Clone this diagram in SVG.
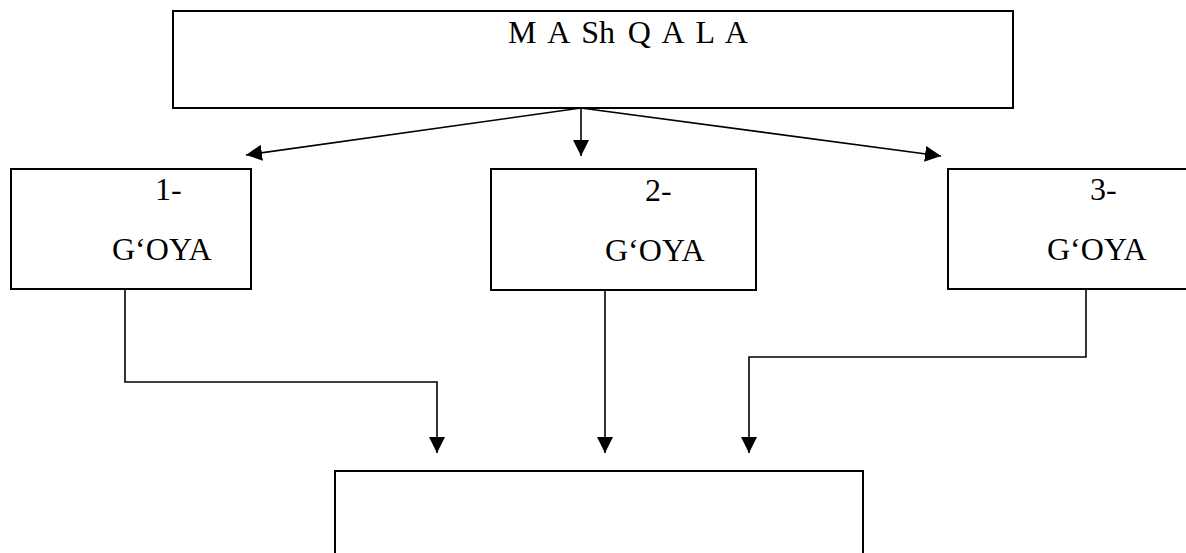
<svg xmlns="http://www.w3.org/2000/svg" width="1186" height="553" viewBox="0 0 1186 553">
<style>
.box{fill:#fff;stroke:#000;stroke-width:2}
.t{font-family:"Liberation Serif","Times New Roman",serif;font-size:32px;fill:#000}
.c{fill:none;stroke:#000;stroke-width:1.6}
</style>
<defs>
<marker id="arr" markerWidth="16" markerHeight="16" refX="16" refY="8" orient="auto" markerUnits="userSpaceOnUse" viewBox="0 0 16 16">
<path d="M0,0 L16,8 L0,16 Z" fill="#000"/>
</marker>
</defs>
<rect width="1186" height="553" fill="#fff"/>
<g id="top">
<rect class="box" x="173" y="11" width="840" height="97"/>
<text class="t" x="508" y="43" word-spacing="4.6">M A Sh Q A L A</text>
</g>
<g id="node1">
<rect class="box" x="11" y="169" width="240" height="120"/>
<text class="t" x="155" y="200">1-</text>
<text class="t" x="112" y="260">G‘OYA</text>
</g>
<g id="node2">
<rect class="box" x="491" y="169" width="265" height="121"/>
<text class="t" x="645" y="201">2-</text>
<text class="t" x="605" y="261">G‘OYA</text>
</g>
<g id="node3">
<rect class="box" x="948" y="169" width="260" height="120"/>
<text class="t" x="1090" y="200">3-</text>
<text class="t" x="1047" y="260">G‘OYA</text>
</g>
<g id="bottom">
<rect class="box" x="335" y="471" width="528" height="100"/>
</g>
<g id="connectors">
<line class="c" x1="581" y1="108" x2="246" y2="155" marker-end="url(#arr)"/>
<line class="c" x1="581" y1="108" x2="581" y2="156" marker-end="url(#arr)"/>
<line class="c" x1="581" y1="108" x2="941" y2="156" marker-end="url(#arr)"/>
<polyline class="c" points="125,289 125,382 437,382 437,453" marker-end="url(#arr)"/>
<line class="c" x1="605" y1="290" x2="605" y2="453" marker-end="url(#arr)"/>
<polyline class="c" points="1086,289 1086,357 749,357 749,453" marker-end="url(#arr)"/>
</g>
</svg>
